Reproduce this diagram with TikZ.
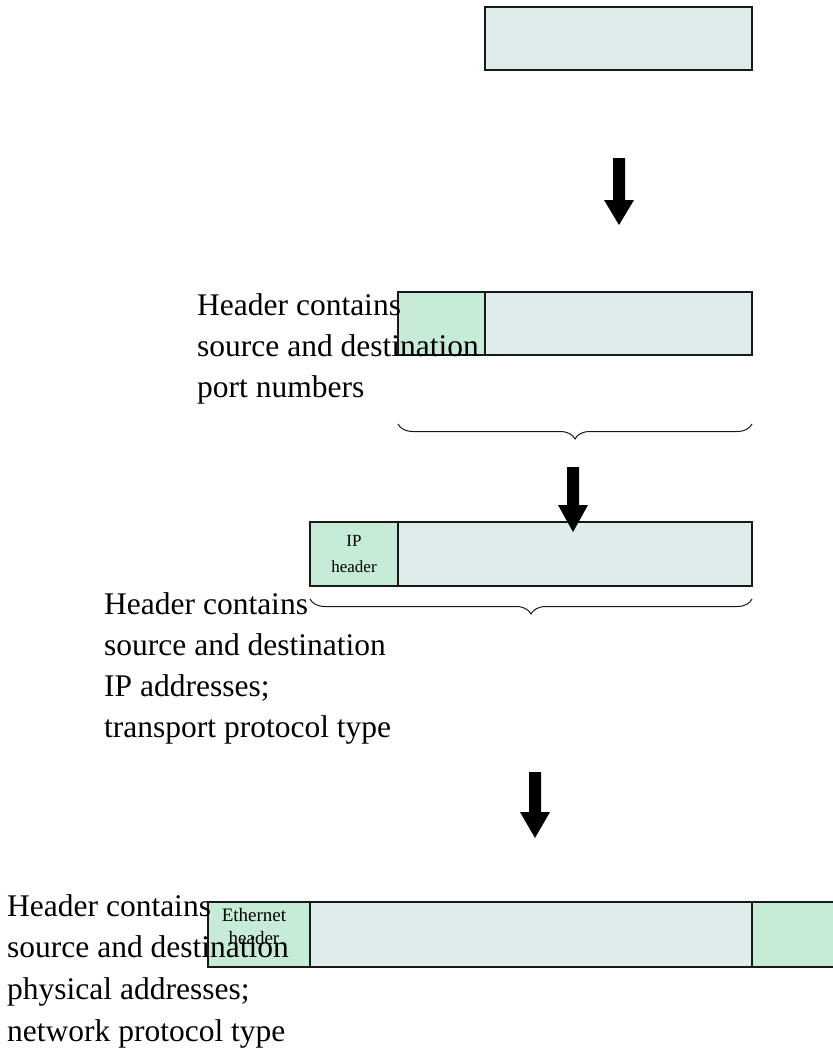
\documentclass[tikz,border=0pt]{standalone}
\usepackage{fontspec}
\setmainfont{Liberation Serif}
\usetikzlibrary{decorations.pathreplacing}
\definecolor{datafill}{HTML}{DFECEC}
\definecolor{hdrfill}{HTML}{C6ECD8}
\begin{document}
\begin{tikzpicture}[x=1pt,y=-1pt,
  seg/.style={draw=black!90,line width=1.1pt,inner sep=0pt,outer sep=0pt,anchor=north west,minimum height=63pt},
  databox/.style={seg,fill=datafill},
  hdrbox/.style={seg,fill=hdrfill,font=\fontsize{17}{26}\selectfont,align=center},
  smalltext/.style={inner sep=0pt,align=center},
  note/.style={anchor=base west,inner sep=0pt,font=\fontsize{31.5}{40}\selectfont},
  curly/.style={draw=black!90,line width=1pt,decorate,decoration={brace,amplitude=15pt,mirror}},
  blockarrow/.style={fill=black}
]
\useasboundingbox (0,0) rectangle (832,1054);

% message
\node[databox,minimum width=267pt] (m1) at (485,7) {};

% arrow 1
\fill[blockarrow] (613,158) -- (625,158) -- (625,200) -- (634,200) -- (619,225) -- (604,200) -- (613,200) -- cycle;

% segment
\node[hdrbox,minimum width=87pt] (th) at (398,292) {};
\node[databox,minimum width=267pt] (td) at (485,292) {};
\draw[curly] (398,424) -- (752,424);
\node[note] (t1a) at (197,315) {Header contains};
\node[note] (t1b) at (197,356) {source and destination};
\node[note] (t1c) at (197,397) {port numbers};

% datagram
\node[hdrbox,minimum width=88pt,minimum height=64pt] (ih) at (310,522) {IP\\header};
\node[databox,minimum width=354pt,minimum height=64pt] (id) at (398,522) {};
\fill[blockarrow] (567,467) -- (579,467) -- (579,505) -- (588,505) -- (573,532) -- (558,505) -- (567,505) -- cycle;
\draw[curly] (310,599) -- (752,599);
\node[note] (t2a) at (104,614) {Header contains};
\node[note] (t2b) at (104,655) {source and destination};
\node[note] (t2c) at (104,696) {IP addresses;};
\node[note] (t2d) at (104,737) {transport protocol type};

% arrow 3
\fill[blockarrow] (529,772) -- (541,772) -- (541,812) -- (550,812) -- (535,838) -- (520,812) -- (529,812) -- cycle;

% frame
\node[hdrbox,minimum width=102pt,minimum height=65pt] (eh) at (208,902) {};
\node[databox,minimum width=442pt,minimum height=65pt] (ed) at (310,902) {};
\node[hdrbox,minimum width=84pt,minimum height=65pt] (et) at (752,902) {};
\node[smalltext,font=\fontsize{19}{23}\selectfont] (ehl) at (254,926) {Ethernet\\header};
\node[note] (t3a) at (7,916) {Header contains};
\node[note] (t3b) at (7,957) {source and destination};
\node[note] (t3c) at (7,999) {physical addresses;};
\node[note] (t3d) at (7,1041) {network protocol type};
\end{tikzpicture}
\end{document}
